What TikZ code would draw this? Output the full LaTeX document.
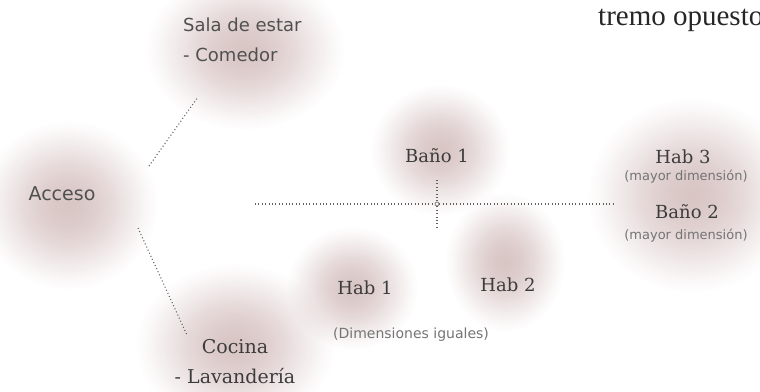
\documentclass[tikz,border=0pt]{standalone}
\usepackage{fontspec}
\setmainfont{DejaVu Serif}
\setsansfont{DejaVu Sans}
\newfontfamily\bodyfont{Liberation Serif}
\usetikzlibrary{fadings, positioning}
\definecolor{glowrose}{HTML}{B08A88}
\definecolor{inkgray}{HTML}{3C3C3C}
\definecolor{notegray}{HTML}{747474}
\definecolor{dotgray}{HTML}{606060}
\pgfdeclareradialshading{glowmask}{\pgfpointorigin}{color(0bp)=(black!50); color(6bp)=(black!56); color(12bp)=(black!68); color(18bp)=(black!84); color(22bp)=(black!94); color(25bp)=(black!100); color(50bp)=(black!100)}
\pgfdeclarefading{softglow}{\pgfuseshading{glowmask}}
\begin{document}
\begin{tikzpicture}[x=1pt, y=-1pt,
  glow/.style={fill=glowrose, path fading=softglow},
  room/.style={font=\fontsize{18}{30}\selectfont, text=inkgray, align=center, inner sep=0pt},
  roomsans/.style={font=\sffamily\fontsize{18}{30}\selectfont, text=inkgray!90, align=left, inner sep=0pt},
  note/.style={font=\sffamily\fontsize{13}{15}\selectfont, text=notegray, inner sep=0pt},
  link/.style={draw=dotgray, line width=1.1pt, dash pattern=on 1pt off 2.4pt}]
\useasboundingbox (0,0) rectangle (760,391);
% Soft glows behind the spaces
\fill[glow] (245,50) ellipse (100 and 80);
\fill[glow] (68,205) ellipse (90 and 85);
\fill[glow] (235,345) ellipse (100 and 82);
\fill[glow] (440,150) ellipse (70 and 66);
\fill[glow] (692,195) ellipse (105 and 98);
\fill[glow] (352,288) ellipse (66 and 62);
\fill[glow] (505,262) ellipse (60 and 70);
% Spaces
\node[roomsans, font=\sffamily\fontsize{19}{30}\selectfont] (acceso) at (62,194) {Acceso};
\node[roomsans, anchor=west] (sala) at (183,40) {Sala de estar\\- Comedor};
\node[room, font=\fontsize{19}{30}\selectfont] (cocina) at (235,362) {Cocina\\- Lavandería};
\node[room] (bano1) at (437,156) {Baño 1};
\node[room] (hab3) at (683,157) {Hab 3};
\node[note] (hab3note) at (686,177) {(mayor dimensión)};
\node[room] (bano2) at (687,212) {Baño 2};
\node[note] (bano2note) at (686,236) {(mayor dimensión)};
\node[room] (hab1) at (365,288) {Hab 1};
\node[room] (hab2) at (508,285) {Hab 2};
\node[note, font=\sffamily\fontsize{14}{16}\selectfont] (habnote) at (411,335) {(Dimensiones iguales)};
\node[font=\bodyfont\fontsize{29}{34}\selectfont, text=black!85, anchor=base west, inner sep=0pt] (body) at (598,25) {tremo opuesto};
% Links
\coordinate (acc-up) at (149,166);
\coordinate (sala-dn) at (198,97);
\coordinate (acc-dn) at (138,228);
\coordinate (coc-up) at (187,335);
\coordinate (axis-w) at (255,204);
\coordinate (axis-e) at (613,204);
\coordinate (axis-n) at (437,180);
\coordinate (axis-s) at (437,228);
\node[circle, draw=dotgray, line width=0.6pt, inner sep=0pt, minimum size=4pt] (hub) at (437,204) {};
\draw[link] (acc-up) -- (sala-dn);
\draw[link] (acc-dn) -- (coc-up);
\draw[link] (axis-w) -- (hub) -- (axis-e);
\draw[link] (axis-n) -- (hub) -- (axis-s);
\end{tikzpicture}
\end{document}
